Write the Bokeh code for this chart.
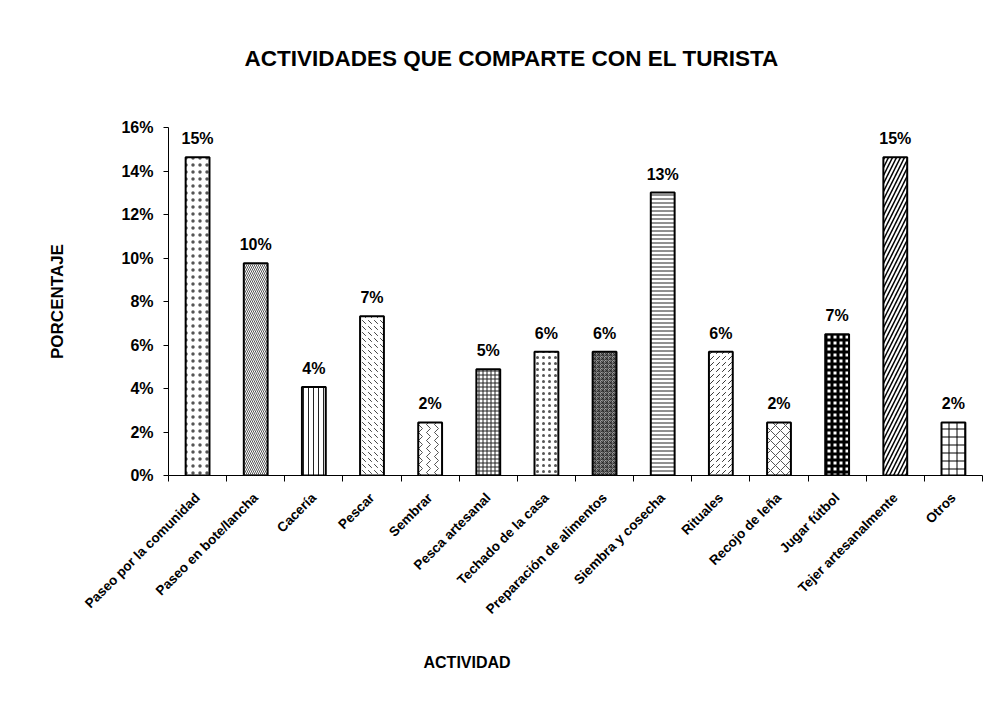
import math
from bokeh.plotting import figure
from bokeh.models import ColumnDataSource, Range1d, FixedTicker, PrintfTickFormatter, Title
from bokeh.core.properties import value
from bokeh.embed import file_html
from bokeh.resources import INLINE

categories = ["Paseo por la comunidad", "Paseo en bote/lancha", "Cacería", "Pescar",
              "Sembrar", "Pesca artesanal", "Techado de la casa", "Preparación de alimentos",
              "Siembra y cosecha", "Rituales", "Recojo de leña", "Jugar fútbol",
              "Tejer artesanalmente", "Otros"]
percent = [14.63, 9.76, 4.07, 7.32, 2.44, 4.88, 5.69, 5.69, 13.01, 5.69, 2.44, 6.50, 14.63, 2.44]
y_ticks = [0, 2, 4, 6, 8, 10, 12, 14, 16]

patterns = ["dot", "left_diagonal_line", "vertical_line", "left_diagonal_dash", "vertical_wave",
            "cross", "dot", "criss_cross", "horizontal_line", "right_diagonal_dash",
            "diagonal_cross", "cross", "right_diagonal_line", "cross"]
scales = [7, 4, 5, 6, 8, 4, 6, 4, 4, 6, 10, 6, 8, 8]
weights = [0.5, 1, 1, 1, 1, 1, 0.5, 0.8, 1, 1, 1, 3, 1.5, 1]
hcolors = ["#555555", "#555555", "#222222", "#444444", "#555555", "#222222", "#555555", "#222222",
           "#222222", "#333333", "#555555", "#000000", "#000000", "#000000"]
fills = ["white"] * 14
fills[7] = "#a0a0a0"

n = len(categories)
xs = [i + 0.5 for i in range(n)]
labels = [f"{math.floor(v + 0.5)}%" for v in percent]

src = ColumnDataSource(dict(x=xs, top=percent, lab=labels, pat=patterns, sc=scales,
                            hw=weights, hc=hcolors, fc=fills))

FONT = "'Liberation Sans', Arial, sans-serif"

p = figure(width=983, height=702, output_backend="svg", toolbar_location=None,
           x_range=Range1d(0, n), y_range=Range1d(0, 16),
           min_border_left=168, min_border_right=1, min_border_top=127, min_border_bottom=227)

p.vbar(x="x", top="top", width=0.41, source=src, fill_color="fc", line_color="black",
       line_width=2, hatch_pattern="pat", hatch_scale="sc", hatch_weight="hw", hatch_color="hc")

p.text(x="x", y="top", text="lab", source=src, y_offset=-10, text_align="center",
       text_baseline="bottom", text_font=value(FONT), text_font_style="bold",
       text_font_size="16px", text_color="black")

p.title.text = "ACTIVIDADES QUE COMPARTE CON EL TURISTA"
p.title.text_font = FONT
p.title.text_font_size = "22.5px"
p.title.text_font_style = "bold"
p.title.text_color = "black"
p.title.align = "left"
p.title.offset = 76
p.title.standoff = 0

spacer = Title(text=" ", text_font_size="10px", standoff=44)
p.add_layout(spacer, "above")

p.xgrid.grid_line_color = None
p.ygrid.grid_line_color = None
p.outline_line_color = None

xa = p.xaxis[0]
xa.ticker = FixedTicker(ticks=xs, minor_ticks=list(range(n + 1)))
xa.major_label_overrides = {x: c for x, c in zip(xs, categories)}
xa.major_label_orientation = math.pi / 4
xa.major_label_text_font = FONT
xa.major_label_text_font_style = "bold"
xa.major_label_text_font_size = "13.5px"
xa.major_label_text_color = "black"
xa.major_tick_out = 0
xa.major_tick_in = 0
xa.minor_tick_out = 6
xa.minor_tick_in = 0
xa.minor_tick_line_color = "black"
xa.axis_line_color = "black"
xa.major_label_standoff = 14

ya = p.yaxis[0]
ya.ticker = FixedTicker(ticks=y_ticks)
ya.formatter = PrintfTickFormatter(format="%d%%")
ya.major_label_text_font = FONT
ya.major_label_text_font_style = "bold"
ya.major_label_text_font_size = "16px"
ya.major_label_text_color = "black"
ya.major_tick_out = 5
ya.major_tick_in = 0
ya.minor_tick_line_color = None
ya.axis_line_color = "black"
ya.major_tick_line_color = "black"
ya.major_label_standoff = 10
ya.axis_label = "PORCENTAJE"
ya.axis_label_text_font = FONT
ya.axis_label_text_font_style = "bold"
ya.axis_label_text_font_size = "17px"
ya.axis_label_text_color = "black"
ya.axis_label_standoff = 51

xt = Title(text="ACTIVIDAD", align="left", offset=255, standoff=52, text_font=FONT,
           text_font_style="bold", text_font_size="16px", text_color="black")
p.add_layout(xt, "below")

open("out.html", "w").write(file_html(p, INLINE))
